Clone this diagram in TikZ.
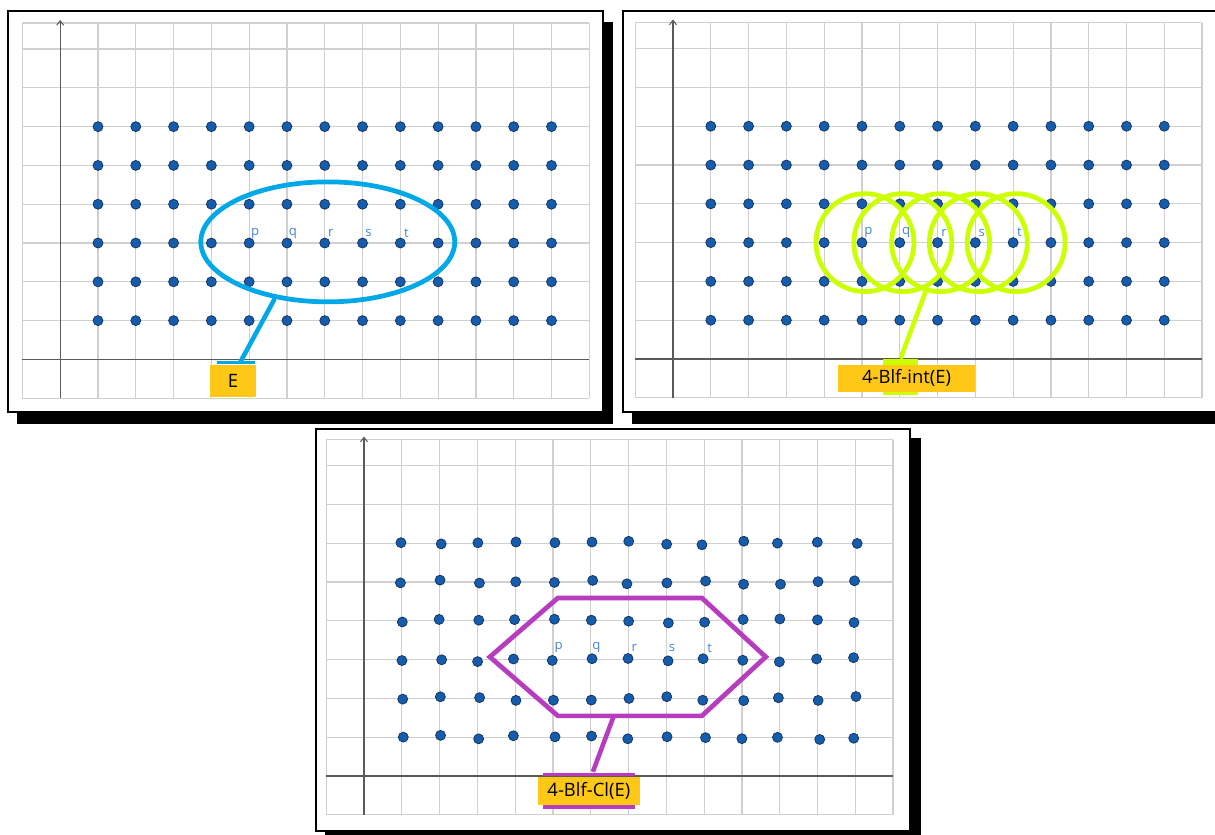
\documentclass[tikz,border=0pt]{standalone}
\usepackage{fontspec}
\setsansfont{Open Sans}
\usepackage{tikz}
\usetikzlibrary{
    arrows.meta,
    positioning,
    calc,
    shapes.geometric
}
\definecolor{dotBlue}{RGB}{22,92,172}
\definecolor{dotEdge}{RGB}{18,48,92}
\definecolor{setCyan}{RGB}{0,168,232}
\definecolor{setLime}{RGB}{204,255,0}
\definecolor{setPurple}{RGB}{182,62,190}
\definecolor{tagYellow}{RGB}{255,200,22}
\definecolor{letterBlue}{RGB}{72,132,212}
\definecolor{gridGray}{RGB}{208,208,208}
\definecolor{axisGray}{RGB}{90,90,90}
\tikzset{
  frame/.style   = {draw=black, fill=white, line width=1.2pt},
  shadow/.style  = {fill=black},
  gridln/.style  = {gridGray, line width=0.7pt},
  axisln/.style  = {axisGray, line width=0.6pt},
  dot/.style     = {circle, fill=dotBlue, draw=dotEdge, line width=0.4pt,
                    inner sep=0pt, minimum size=0.2cm},
  letter/.style  = {font=\sffamily\fontsize{7.5}{8}\selectfont,
                    text=letterBlue, inner sep=0pt},
  tag/.style     = {fill=tagYellow, inner sep=0pt,
                    font=\sffamily\fontsize{10.5}{12}\selectfont},
  ring/.style    = {circle, draw=setLime, line width=2.7pt,
                    minimum size=1.96cm, inner sep=0pt},
  link/.style    = {line width=2.6pt}
}
% grid, axes and lattice of one panel: #1 name prefix, #2 jitter
\newcommand{\latticeplane}[2]{%
  \foreach \i in {-1,...,14} \draw[gridln] (\i,-1) -- (\i,8.67);
  \foreach \j in {-1,...,8} \draw[gridln] (-1,\j) -- (14,\j);
  \draw[gridln] (-1,8.67) -- (14,8.67);
  \draw[axisln] (-1,0) -- (14,0);
  \draw[axisln, -{Straight Barb[length=2.5pt,width=4pt]}] (0,-1) -- (0,8.75);
  \foreach \i in {1,...,13}
    \foreach \j in {1,...,6} {
      \pgfmathsetmacro{\dx}{#2*rand}
      \pgfmathsetmacro{\dy}{#2*rand}
      \node[dot] (#1-\i-\j) at (\i+\dx,\j+\dy) {};
    }
}

\begin{document}
\begin{tikzpicture}[x=0.02cm, y=-0.02cm]
  \clip (0,0) rectangle (1215,835);
  % shadows and frames
  \fill[shadow] (17,22) rectangle (613,424);
  \fill[shadow] (632,22) rectangle (1230,424);
  \fill[shadow] (325,438) rectangle (921,842);
  \draw[frame] (8,11) rectangle (603,412);
  \draw[frame] (623,11) rectangle (1230,412);
  \draw[frame] (316,429) rectangle (910,831);

  % panel 1: E
  \begin{scope}[shift={(60.2,359.4)}, x=0.756cm, y=0.776cm]
    \latticeplane{a}{0}
    \node[ellipse, draw=setCyan, line width=2.7pt, minimum width=5.08cm,
          minimum height=2.4cm, inner sep=0pt] (setE) at (7.08,3.03) {};
    \foreach \c [count=\k from 5] in {p,q,r,s,t}
      \node[letter] (a-\c) at (\k+0.16,3.25) {\c};
    \node[tag, minimum width=0.92cm, minimum height=0.64cm] (tagE) at (4.57,-0.56) {E};
    \draw[setCyan, line width=1.8pt] ([xshift=0.14cm,yshift=0.05cm]tagE.north west)
      -- ([xshift=-0.02cm,yshift=0.05cm]tagE.north east);
    \draw[link, setCyan] (setE.227) -- ([xshift=0.14cm,yshift=0.04cm]tagE.north);
  \end{scope}

  % panel 2: 4-Blf-int(E)
  \begin{scope}[shift={(673,359)}, x=0.756cm, y=0.776cm]
    \latticeplane{b}{0}
    \foreach \c [count=\k from 5] in {p,q,r,s,t}
      \node[ring] (ring-\c) at (\k+0.08,3.0) {};
    \foreach \c [count=\k from 5] in {p,q,r,s,t}
      \node[letter] (b-\c) at (\k+0.17,3.26) {\c};
    \node[fill=setLime, minimum width=0.7cm, minimum height=0.72cm,
          inner sep=0pt] (tagBar2) at (6.02,-0.46) {};
    \node[tag, minimum width=2.74cm, minimum height=0.54cm] (tagInt) at (6.18,-0.5) {4-Blf-int(E)};
    \draw[link, setLime] (ring-r.253) -- (tagBar2.north);
  \end{scope}

  % panel 3: 4-Blf-Cl(E)
  \pgfmathsetseed{11}
  \begin{scope}[shift={(364,776)}, x=0.756cm, y=0.776cm]
    \latticeplane{c}{0.06}
    \coordinate (hxL)  at (3.33,3.07);
    \coordinate (hxTL) at (5.13,4.59);
    \coordinate (hxTR) at (8.94,4.59);
    \coordinate (hxR)  at (10.63,3.07);
    \coordinate (hxBR) at (8.94,1.55);
    \coordinate (hxBL) at (5.13,1.55);
    \coordinate (hexLow) at (6.61,1.55);
    \draw[setPurple, line width=2.7pt] (hxL) -- (hxTL) -- (hxTR) -- (hxR)
      -- (hxBR) -- (hxBL) -- cycle;
    \foreach \c [count=\k from 5] in {p,q,r,s,t}
      \node[letter] (c-\c) at (\k+0.15,3.3) {\c};
    \node[tag, minimum width=2.04cm, minimum height=0.56cm] (tagCl) at (5.95,-0.39) {4-Blf-Cl(E)};
    \draw[setPurple, line width=1.8pt] ([xshift=0.1cm,yshift=0.05cm]tagCl.north west)
      -- ([xshift=-0.1cm,yshift=0.05cm]tagCl.north east);
    \draw[setPurple, line width=1.8pt] ([xshift=0.1cm,yshift=-0.03cm]tagCl.south west)
      -- ([xshift=-0.1cm,yshift=-0.03cm]tagCl.south east);
    \draw[link, setPurple] (hexLow) -- ([xshift=0.08cm,yshift=0.1cm]tagCl.north);
  \end{scope}
\end{tikzpicture}
\end{document}
